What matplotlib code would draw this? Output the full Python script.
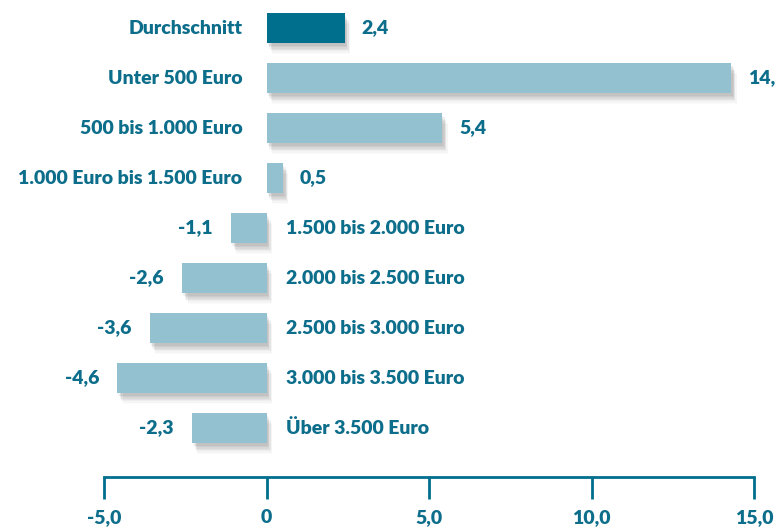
import matplotlib
matplotlib.use("Agg")
import matplotlib.pyplot as plt
import matplotlib.patheffects as pe

categories = ["Durchschnitt", "Unter 500 Euro", "500 bis 1.000 Euro",
              "1.000 Euro bis 1.500 Euro", "1.500 bis 2.000 Euro",
              "2.000 bis 2.500 Euro", "2.500 bis 3.000 Euro",
              "3.000 bis 3.500 Euro", "Über 3.500 Euro"]
values = [2.4, 14.3, 5.4, 0.5, -1.1, -2.6, -3.6, -4.6, -2.3]
xticks = [-5, 0, 5, 10, 15]
xticklabels = ["-5,0", "0", "5,0", "10,0", "15,0"]

DARK = "#006f8d"
LIGHT = "#93c1d0"
TXT = "#0d6e8b"
FONT = "Lato"
W = "heavy"
FS = 14

fig = plt.figure(figsize=(7.76, 5.29), dpi=100)
ax = fig.add_axes([104 / 776, 1 - 477 / 529, 650 / 776, 477 / 529])
ax.set_xlim(-5, 15)
ax.set_ylim(8.98, -0.56)

ys = list(range(len(values)))
colors = [DARK] + [LIGHT] * (len(values) - 1)

shadow = []
for dx, dy, a in [(1, -2, 0.05), (2, -3, 0.05), (2, -4, 0.045),
                  (3, -5, 0.04), (3, -6, 0.03), (4, -7, 0.025), (4, -8, 0.015)]:
    shadow.append(pe.SimplePatchShadow(offset=(dx, dy), shadow_rgbFace="black", alpha=a))
shadow.append(pe.Normal())

bars = ax.barh(ys, values, height=0.6, color=colors, zorder=3)
for b in bars:
    b.set_path_effects(shadow)

px_x = 20 / 650  # data units per pixel in x
for y, v, c in zip(ys, values, categories):
    lab = f"{v:.1f}".replace(".", ",")
    if v >= 0:
        ax.text(-24 * px_x, y, c, ha="right", va="center", color=TXT,
                fontsize=FS, fontweight=W, family=FONT)
        ax.text(v + 17 * px_x, y, lab, ha="left", va="center", color=TXT,
                fontsize=FS, fontweight=W, family=FONT, clip_on=False)
    else:
        ax.text(20 * px_x, y, c, ha="left", va="center", color=TXT,
                fontsize=FS, fontweight=W, family=FONT)
        ax.text(v - 18 * px_x, y, lab, ha="right", va="center", color=TXT,
                fontsize=FS, fontweight=W, family=FONT)

for s in ["top", "left", "right"]:
    ax.spines[s].set_visible(False)
ax.spines["bottom"].set_color(DARK)
ax.spines["bottom"].set_linewidth(2)
ax.set_yticks([])
ax.set_xticks(xticks)
ax.set_xticklabels(xticklabels, fontsize=FS, fontweight=W, color=TXT, family=FONT)
ax.tick_params(axis="x", direction="out", length=16, width=2, color=DARK, pad=7)
ax.patch.set_visible(False)

fig.savefig("out.png", dpi=100)
